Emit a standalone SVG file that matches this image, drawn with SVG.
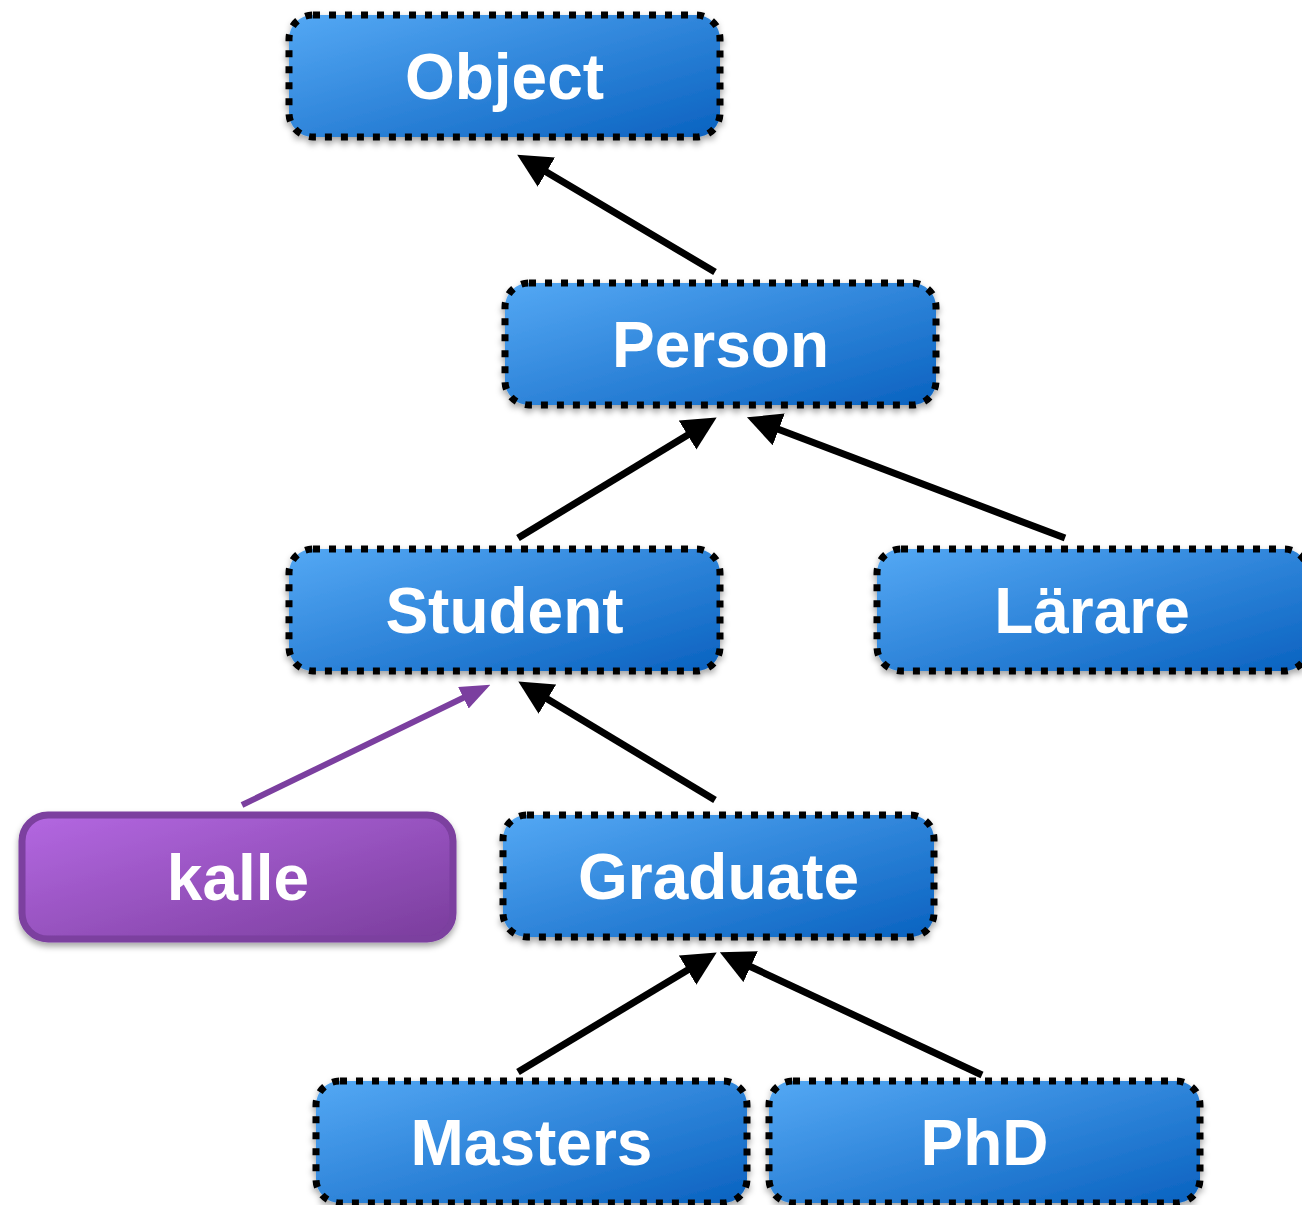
<svg xmlns="http://www.w3.org/2000/svg" width="1302" height="1205" viewBox="0 0 1302 1205">
  <defs>
    <linearGradient id="blueGrad" x1="0" y1="0" x2="1" y2="1">
      <stop offset="0" stop-color="#54a8f4"/>
      <stop offset="1" stop-color="#0a62c0"/>
    </linearGradient>
    <linearGradient id="purpleGrad" x1="0" y1="0" x2="1" y2="1">
      <stop offset="0" stop-color="#b468e2"/>
      <stop offset="1" stop-color="#7a3d9c"/>
    </linearGradient>
    <filter id="shadow" x="-10%" y="-20%" width="120%" height="150%">
      <feDropShadow dx="0" dy="4" stdDeviation="3" flood-color="#000" flood-opacity="0.35"/>
    </filter>
    <marker id="arrowBlack" markerUnits="userSpaceOnUse" viewBox="0 0 34 34" markerWidth="34" markerHeight="34" refX="4" refY="17" orient="auto">
      <path d="M0,0 L34,17 L0,34 Z" fill="#000"/>
    </marker>
    <marker id="arrowPurple" markerUnits="userSpaceOnUse" viewBox="0 0 30 24" markerWidth="30" markerHeight="24" refX="4" refY="12" orient="auto">
      <path d="M0,0 L30,12 L0,24 Z" fill="#7b3f9f"/>
    </marker>
  </defs>
  <style>
    .cls rect { fill: url(#blueGrad); stroke: #000; stroke-width: 7; stroke-dasharray: 7 9; filter: url(#shadow); }
    .obj rect { fill: url(#purpleGrad); stroke: #7b3f9f; stroke-width: 7; filter: url(#shadow); }
    text { font-family: "Liberation Sans", Arial, Helvetica, sans-serif; font-weight: bold; font-size: 64px; fill: #fff; text-anchor: middle; }
    .edge { stroke: #000; stroke-width: 7; fill: none; marker-end: url(#arrowBlack); }
    .edge-purple { stroke: #7b3f9f; stroke-width: 6; fill: none; marker-end: url(#arrowPurple); }
  </style>

  <g id="connectors">
    <line class="edge" x1="715" y1="272" x2="543" y2="170"/>
    <line class="edge" x1="518" y1="538" x2="691" y2="433"/>
    <line class="edge" x1="1065" y1="538" x2="775" y2="428"/>
    <line class="edge-purple" x1="242" y1="805" x2="467" y2="696"/>
    <line class="edge" x1="715" y1="800" x2="544" y2="697"/>
    <line class="edge" x1="518" y1="1072" x2="691" y2="968"/>
    <line class="edge" x1="982" y1="1075" x2="747" y2="965"/>
  </g>

  <g id="node-object" class="cls">
    <rect x="289" y="15" width="431" height="122" rx="24"/>
    <text x="504.5" y="99">Object</text>
  </g>
  <g id="node-person" class="cls">
    <rect x="505" y="283" width="431" height="122" rx="24"/>
    <text x="720.5" y="367">Person</text>
  </g>
  <g id="node-student" class="cls">
    <rect x="289" y="549" width="431" height="122" rx="24"/>
    <text x="504.5" y="633">Student</text>
  </g>
  <g id="node-larare" class="cls">
    <rect x="877" y="549" width="431" height="122" rx="24"/>
    <text x="1092" y="633">Lärare</text>
  </g>
  <g id="node-kalle" class="obj">
    <rect x="22" y="815" width="431" height="124" rx="26"/>
    <text x="238" y="900">kalle</text>
  </g>
  <g id="node-graduate" class="cls">
    <rect x="503" y="815" width="431" height="122" rx="24"/>
    <text x="718.5" y="899">Graduate</text>
  </g>
  <g id="node-masters" class="cls">
    <rect x="316" y="1081" width="431" height="122" rx="24"/>
    <text x="531.5" y="1165">Masters</text>
  </g>
  <g id="node-phd" class="cls">
    <rect x="769" y="1081" width="431" height="122" rx="24"/>
    <text x="984.5" y="1165">PhD</text>
  </g>
</svg>
